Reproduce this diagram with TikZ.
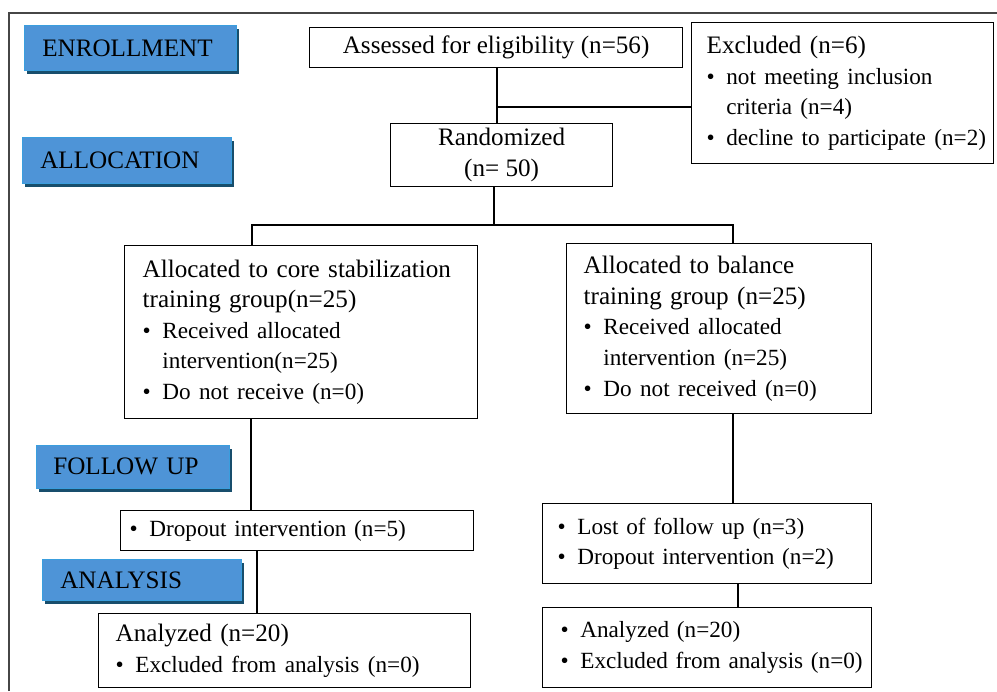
\documentclass[tikz,border=0pt]{standalone}
\usepackage{fontspec}
\setmainfont{Liberation Serif}
\usetikzlibrary{shadows}
\definecolor{stagefill}{RGB}{78,148,215}
\definecolor{stageline}{RGB}{58,158,222}
\definecolor{stageshade}{RGB}{24,78,108}
\definecolor{framegray}{RGB}{70,70,70}
\newcommand{\bigtxt}{\fontsize{14.3}{17.4}\selectfont}
\newcommand{\smalltxt}{\fontsize{13.2}{17.4}\selectfont}
\newcommand{\itm}[1]{\makebox[0.85em][l]{\textbullet}\mbox{#1}}
\newcommand{\cont}[1]{\hspace*{0.85em}\mbox{#1}}
\begin{document}
\begin{tikzpicture}[x=0.02cm,y=-0.02cm,
    stage/.style={anchor=north west,fill=stagefill,draw=stageline,line width=0.4pt,
        align=left,inner ysep=0pt,font=\bigtxt,
        drop shadow={shadow xshift=0.05cm,shadow yshift=-0.08cm,fill=stageshade,opacity=1}},
    box/.style={anchor=north west,draw,line width=0.75pt,align=left,inner ysep=2pt,font=\bigtxt},
    link/.style={line width=0.7pt}]
    \useasboundingbox (0,0) rectangle (997,691);
    \draw[framegray,line width=0.9pt] (9,691) -- (9,13) -- (997,13);

    % stages
    \node[stage,minimum height=0.9cm,inner xsep=0.36cm,text width=3.52cm] (enrol) at (24,25) {ENROLLMENT};
    \node[stage,minimum height=0.92cm,inner xsep=0.36cm,text width=3.46cm] (alloc) at (22,137) {ALLOCATION};
    \node[stage,minimum height=0.86cm,inner xsep=0.34cm,text width=3.18cm] (follow) at (36,445) {FOLLOW UP};
    \node[stage,minimum height=0.82cm,inner xsep=0.36cm,text width=3.26cm] (analy) at (42,559) {ANALYSIS};

    % boxes
    \node[box,align=center,minimum width=7.46cm,minimum height=0.8cm] (assess) at (309,27) {Assessed for eligibility (n=56)};
    \node[box,minimum height=2.82cm,inner xsep=0.3cm,text width=5.44cm] (excl) at (691,22)
        {Excluded (n=6)\\ \smalltxt\itm{not meeting inclusion}\\ \cont{criteria (n=4)}\\ \itm{decline to participate (n=2)}};
    \node[box,align=center,minimum width=4.44cm,minimum height=1.26cm] (rand) at (390,123) {Randomized\\(n= 50)};
    \node[box,minimum height=3.46cm,inner xsep=0.36cm,text width=6.34cm] (grpA) at (124,245)
        {Allocated to core stabilization\\ training group(n=25)\\ \smalltxt\itm{Received allocated}\\ \cont{intervention(n=25)}\\ \itm{Do not receive (n=0)}};
    \node[box,minimum height=3.4cm,inner xsep=0.34cm,text width=5.42cm] (grpB) at (566,243)
        {Allocated to balance\\ training group (n=25)\\ \smalltxt\itm{Received allocated}\\ \cont{intervention (n=25)}\\ \itm{Do not received (n=0)}};
    \node[box,minimum height=0.8cm,inner xsep=0.18cm,text width=6.7cm,font=\smalltxt] (dropA) at (120,510)
        {\itm{Dropout intervention (n=5)}};
    \node[box,minimum height=1.6cm,inner xsep=0.3cm,text width=5.98cm,font=\smalltxt] (lostB) at (542,503)
        {\itm{Lost of follow up (n=3)}\\ \itm{Dropout intervention (n=2)}};
    \node[box,minimum height=1.48cm,inner xsep=0.34cm,text width=6.76cm] (anaA) at (98,613)
        {Analyzed (n=20)\\ \smalltxt\itm{Excluded from analysis (n=0)}};
    \node[box,minimum height=1.6cm,inner xsep=0.36cm,text width=5.86cm,font=\smalltxt] (anaB) at (542,607)
        {\itm{Analyzed (n=20)}\\ \itm{Excluded from analysis (n=0)}};

    % connectors
    \coordinate (j1) at (497,107);
    \coordinate (j2) at (494,225);
    \coordinate (tl) at (252,225);
    \coordinate (tr) at (733,225);
    \coordinate (xa) at (251,0);
    \coordinate (xb) at (257,0);
    \coordinate (xc) at (733,0);
    \coordinate (xd) at (738,0);
    \draw[link] (assess.south -| j1) -- (rand.north -| j1);
    \draw[link] (j1) -- (j1 -| excl.west);
    \draw[link] (rand.south -| j2) -- (j2);
    \draw[link] (grpA.north -| tl) -- (tl) -- (tr) -- (grpB.north -| tr);
    \draw[link] (grpA.south -| xa) -- (dropA.north -| xa);
    \draw[link] (dropA.south -| xb) -- (anaA.north -| xb);
    \draw[link] (grpB.south -| xc) -- (lostB.north -| xc);
    \draw[link] (lostB.south -| xd) -- (anaB.north -| xd);
\end{tikzpicture}
\end{document}
